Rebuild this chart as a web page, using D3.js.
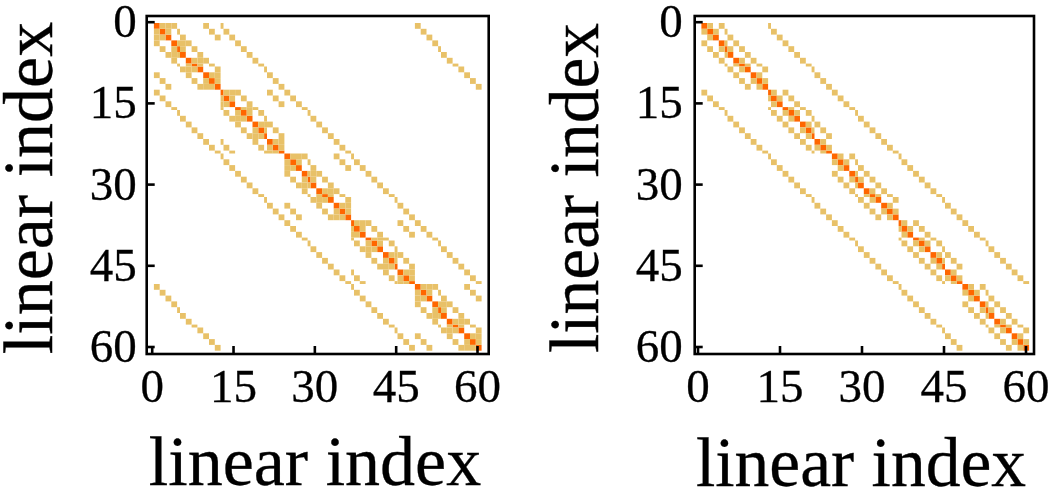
<!DOCTYPE html>
<html>
<head>
<meta charset="utf-8">
<script src="https://cdn.jsdelivr.net/npm/d3@7"></script>
<style>
  html, body { margin: 0; padding: 0; background: #fff; }
  svg { display: block; }
  .cells { filter: blur(0.3px); }
  .ink { filter: blur(0.5px); }
  text { font-family: "Liberation Serif", serif; fill: #000; stroke: #000; stroke-width: 0.3px; }
</style>
</head>
<body>
<div id="chart"></div>
<script>
// tick labels and matrix size
const tickValues = [0, 15, 30, 45, 60];
const matrixSize = 60;
const blockStarts = [0, 12, 24, 36, 48];

// upper triangle of one 12x12 block, per row (the blocks repeat down the diagonal)
const leftBlockRows = [[1,2,3],[2,4],[5],[4,5,6],[5,7],[8],[7,8,9],[8,10],[11],[10,11],[11],[]];
const rightBlockRows = [[1,3],[2,4],[5],[4,6],[5,7],[8],[7,9],[8,10],[11],[10],[11],[]];

// long off-diagonals
const leftBandOffsets = [12, 48];
const rightBandOffsets = [12];

// short off-diagonal pieces at the start of each block (left panel only)
const leftShortOffset = 9;
const leftShortRows = [0, 1, 2];

const colors = { diag: "#ff6600", off: "#e8c168" };

// the picture was resampled: every 8th row/column came out half as wide
const squeezedCols = 4, squeezedRows = 7, squeezePeriod = 8;

function buildCells(blockRows, bandOffsets, shortOffset, shortRows) {
  let cells = [];
  let add = function(r, c) {
    cells.push({ r: r, c: c, k: "off" });
    cells.push({ r: c, c: r, k: "off" });
  };
  for (let i = 0; i < matrixSize; i++) cells.push({ r: i, c: i, k: "diag" });
  blockStarts.forEach(function(s) {
    blockRows.forEach(function(cols, r) {
      cols.forEach(function(c) { add(s + r, s + c); });
    });
    shortRows.forEach(function(r) { add(s + r, s + r + shortOffset); });
  });
  bandOffsets.forEach(function(o) {
    for (let i = 0; i + o < matrixSize; i++) add(i, i + o);
  });
  return cells;
}

// effective position of an index edge once the narrow lines are taken out
function squeezed(i, first) {
  let n = 0;
  for (let k = first; k < i; k += squeezePeriod) n++;
  return i - n * 0.5;
}

const svg = d3.select("#chart").append("svg")
  .attr("width", 1050)
  .attr("height", 490);

function drawPanel(cfg) {
  let cellLayer = svg.append("g").attr("class", "cells");
  let g = svg.append("g").attr("class", "ink");

  let x = d3.scaleLinear().domain([0, 60]).range(cfg.xRange);
  let y = d3.scaleLinear().domain([0, 60]).range([21.7, 346.5]);

  let cellX = d3.scaleLinear().domain([0, 1]).range([cfg.cellLeft, cfg.cellLeft + 5.8]);
  let cellY = d3.scaleLinear().domain([0, 1]).range([23, 28.8]);

  cellLayer.selectAll("rect.cell")
    .data(cfg.cells)
    .enter().append("rect")
    .attr("class", "cell")
    .attr("x", function(d) { return cellX(squeezed(d.c, squeezedCols)); })
    .attr("y", function(d) { return cellY(squeezed(d.r, squeezedRows)); })
    .attr("width", function(d) { return cellX(squeezed(d.c + 1, squeezedCols)) - cellX(squeezed(d.c, squeezedCols)); })
    .attr("height", function(d) { return cellY(squeezed(d.r + 1, squeezedRows)) - cellY(squeezed(d.r, squeezedRows)); })
    .attr("fill", function(d) { return colors[d.k]; });

  g.append("rect")
    .attr("x", cfg.frame[0])
    .attr("y", 16)
    .attr("width", cfg.frame[1] - cfg.frame[0])
    .attr("height", 338)
    .attr("fill", "none")
    .attr("stroke", "#000")
    .attr("stroke-width", 2.6);

  let xAxis = g.append("g")
    .attr("transform", "translate(0,354)")
    .call(d3.axisBottom(x).tickValues(tickValues).tickSizeInner(-8).tickSizeOuter(0).tickPadding(15));
  let yAxis = g.append("g")
    .attr("transform", "translate(" + cfg.frame[0] + ",0)")
    .call(d3.axisLeft(y).tickValues(tickValues).tickSizeInner(-8).tickSizeOuter(0).tickPadding(cfg.yPad));

  [xAxis, yAxis].forEach(function(a) {
    a.select(".domain").remove();
    a.selectAll(".tick line").attr("stroke", "#000").attr("stroke-width", 2.6);
    a.selectAll("text").style("font-size", "47px").attr("fill", "#000")
      .style("font-family", '"Liberation Serif", serif');
  });

  g.append("text")
    .attr("x", cfg.xLabel[0])
    .attr("y", cfg.xLabel[1])
    .style("text-anchor", "middle")
    .style("font-size", cfg.labelSize + "px")
    .text("linear index");

  g.append("text")
    .attr("transform", "translate(" + cfg.yLabel[0] + "," + cfg.yLabel[1] + ") rotate(-90)")
    .style("text-anchor", "middle")
    .style("font-size", cfg.labelSize + "px")
    .text("linear index");
}

drawPanel({
  cells: buildCells(leftBlockRows, leftBandOffsets, leftShortOffset, leftShortRows),
  xRange: [151.7, 477],
  cellLeft: 153.9,
  frame: [146.7, 488.7],
  yPad: 10,
  labelSize: 70,
  xLabel: [315, 485],
  yLabel: [52, 188]
});

drawPanel({
  cells: buildCells(rightBlockRows, rightBandOffsets, 0, []),
  xRange: [697.5, 1025.5],
  cellLeft: 701.4,
  frame: [694.7, 1034],
  yPad: 12,
  labelSize: 69.5,
  xLabel: [861, 486],
  yLabel: [598, 188]
});
</script>
</body>
</html>
